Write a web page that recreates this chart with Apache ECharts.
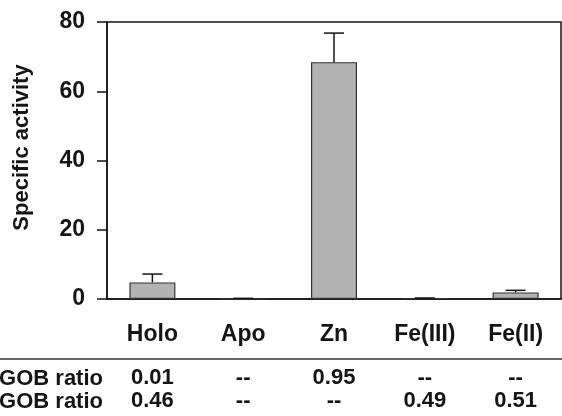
<!DOCTYPE html>
<html>
<head>
<meta charset="utf-8">
<script src="https://cdn.jsdelivr.net/npm/echarts@6/dist/echarts.min.js"></script>
<style>html,body{margin:0;padding:0;background:#fff}#c{width:562px;height:416px}</style>
</head>
<body>
<div id="c"></div>
<script>
const categories = ['Holo', 'Apo', 'Zn', 'Fe(III)', 'Fe(II)'];
const activity = [4.8, 0, 68.4, 0.3, 1.9];
const activityError = [2.4, 0.2, 8.4, 0, 0.6];
const row1Label = 'GOB ratio';
const row1Values = ['0.01', '--', '0.95', '--', '--'];
const row2Label = 'GOB ratio';
const row2Values = ['0.46', '--', '--', '0.49', '0.51'];
const yTicks = { min: 0, max: 80, interval: 20 };

const FONT = '"Liberation Sans", Arial, sans-serif';
const INK = '#151515';

const chart = echarts.init(document.getElementById('c'), null, { renderer: 'canvas' });

const errData = activity.map((v, i) => [i, v, v + activityError[i]]);

const rowAxis = (vals, offset) => ({
  type: 'category',
  data: categories,
  position: 'bottom',
  offset: offset,
  axisLine: { show: false },
  axisTick: { show: false },
  axisLabel: {
    margin: 0,
    fontFamily: FONT, fontWeight: 'bold', fontSize: 22, color: INK,
    verticalAlign: 'top',
    formatter: (v, i) => vals[i]
  }
});

chart.setOption({
  animation: false,
  backgroundColor: '#fff',
  grid: {
    left: 107, right: 1, top: 22, bottom: 117,
    show: true, borderColor: INK, borderWidth: 1.5, backgroundColor: 'transparent'
  },
  xAxis: [
    {
      type: 'category',
      data: categories,
      axisLine: { lineStyle: { color: INK, width: 1.5 } },
      axisTick: { alignWithLabel: true, length: 10, lineStyle: { color: INK, width: 1.5 } },
      axisLabel: {
        margin: 24, fontFamily: FONT, fontWeight: 'bold', fontSize: 23, color: INK,
        verticalAlign: 'top'
      }
    },
    rowAxis(row1Values, 68),
    rowAxis(row2Values, 91)
  ],
  yAxis: {
    type: 'value',
    min: yTicks.min, max: yTicks.max, interval: yTicks.interval,
    name: 'Specific activity',
    nameLocation: 'middle',
    nameRotate: 90,
    nameGap: 74,
    nameTextStyle: { fontFamily: FONT, fontWeight: 'bold', fontSize: 22, color: INK, padding: [0, 0, 0, 26] },
    axisLine: { show: true, lineStyle: { color: INK, width: 1.5 } },
    axisTick: { show: true, length: 10, lineStyle: { color: INK, width: 1.5 } },
    splitLine: { show: false },
    axisLabel: { margin: 22, fontFamily: FONT, fontWeight: 'bold', fontSize: 23, color: INK }
  },
  series: [
    {
      type: 'bar',
      data: activity,
      barWidth: 46,
      itemStyle: { color: '#b3b3b3', borderColor: '#333', borderWidth: 1.2 },
      z: 2
    },
    {
      type: 'custom',
      data: errData,
      z: 3,
      renderItem: function (params, api) {
        const x = api.value(0);
        const lo = api.coord([x, api.value(1)]);
        const hi = api.coord([x, api.value(2)]);
        const half = 10;
        return {
          type: 'group',
          children: [
            { type: 'line', shape: { x1: lo[0], y1: lo[1], x2: hi[0], y2: hi[1] }, style: { stroke: INK, lineWidth: 1.5 } },
            { type: 'line', shape: { x1: hi[0] - half, y1: hi[1], x2: hi[0] + half, y2: hi[1] }, style: { stroke: INK, lineWidth: 1.5 } }
          ]
        };
      }
    }
  ],
  graphic: [
    { type: 'line', shape: { x1: 0, y1: 359, x2: 562, y2: 359 }, style: { stroke: '#333', lineWidth: 1.5 } },
    { type: 'text', right: 459, top: 368, style: { text: row1Label, font: 'bold 22px ' + FONT, fill: INK } },
    { type: 'text', right: 459, top: 391, style: { text: row2Label, font: 'bold 22px ' + FONT, fill: INK } }
  ]
});
</script>
</body>
</html>
